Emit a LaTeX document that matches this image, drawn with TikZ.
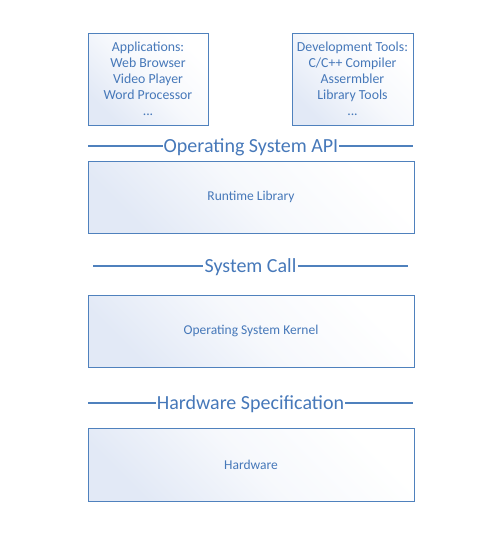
\documentclass[tikz,border=0pt]{standalone}
\usepackage{fontspec}
\setmainfont{Carlito}
\definecolor{lineblue}{RGB}{79,129,189}
\definecolor{textblue}{RGB}{70,120,185}
\definecolor{fillblue}{RGB}{226,233,246}
\tikzset{
  layerbox/.style={draw=lineblue, line width=1pt, shading=axis, top color=fillblue, bottom color=white, middle color=white!70!fillblue, shading angle=135, text=textblue, font=\fontsize{13.5}{16}\selectfont, align=center, inner sep=0pt},
  apilabel/.style={text=textblue, font=\fontsize{20}{22}\selectfont, inner sep=1pt},
  apiline/.style={draw=lineblue, line width=1.2pt}
}
\begin{document}
\begin{tikzpicture}[x=1pt,y=-1pt]
\useasboundingbox (0,0) rectangle (494,533);
% top boxes
\node[layerbox, minimum width=120pt, minimum height=92pt, font=\fontsize{13.8}{16}\selectfont] (apps) at (148,79) {Applications:\\Web Browser\\Video Player\\Word Processor\\...};
\node[layerbox, minimum width=121pt, minimum height=92pt, font=\fontsize{13.8}{16}\selectfont] (dev) at (352.5,79) {Development Tools:\\C/C++ Compiler\\Assermbler\\Library Tools\\...};
% OS API
\node[apilabel] (api) at (251,147) {Operating System API};
\coordinate (apiL) at (88,146);
\coordinate (apiR) at (413,146);
\draw[apiline] (apiL) -- (apiL -| api.west);
\draw[apiline] (api.east |- apiR) -- (apiR);
% Runtime library
\node[layerbox, minimum width=326pt, minimum height=72pt] (rt) at (251,197) {Runtime Library};
% System call
\node[apilabel] (sc) at (250.5,267) {System Call};
\coordinate (scL) at (93,266);
\coordinate (scR) at (408,266);
\draw[apiline] (scL) -- (scL -| sc.west);
\draw[apiline] (sc.east |- scR) -- (scR);
% Kernel
\node[layerbox, minimum width=326pt, minimum height=72pt] (kern) at (251,331) {Operating System Kernel};
% Hardware spec
\node[apilabel] (hs) at (250.5,404) {Hardware Specification};
\coordinate (hsL) at (88,403);
\coordinate (hsR) at (413,403);
\draw[apiline] (hsL) -- (hsL -| hs.west);
\draw[apiline] (hs.east |- hsR) -- (hsR);
% Hardware
\node[layerbox, minimum width=326pt, minimum height=73pt] (hw) at (251,465) {Hardware};
\end{tikzpicture}
\end{document}
